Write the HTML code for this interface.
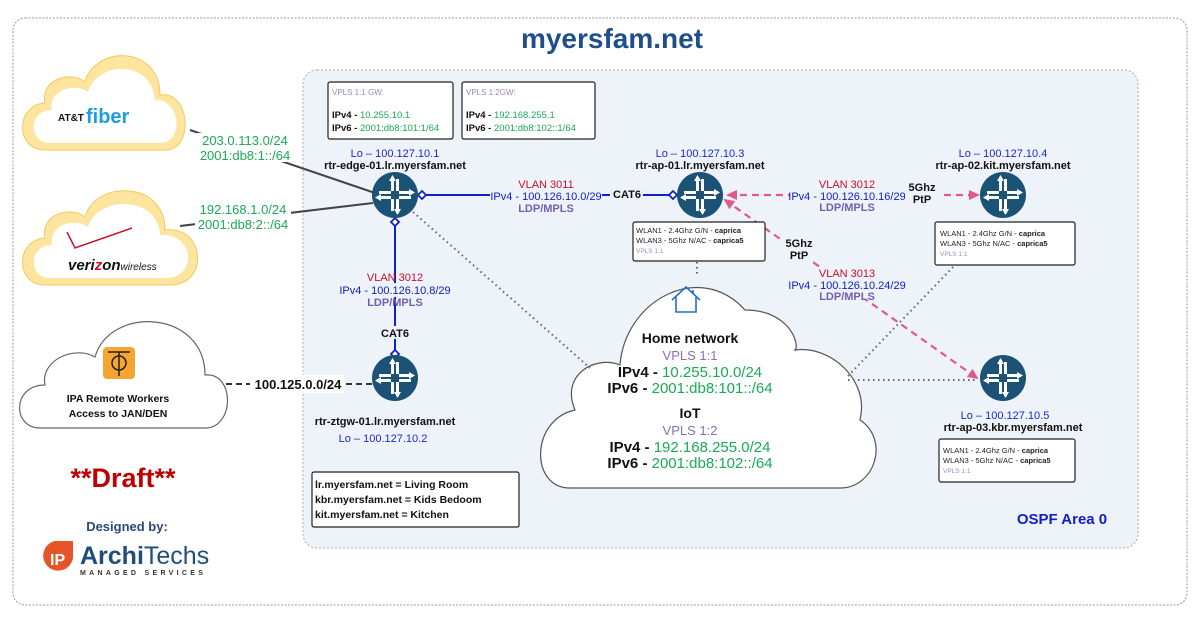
<!DOCTYPE html>
<html><head><meta charset="utf-8"><style>
html,body{margin:0;padding:0;background:#fff}
svg{display:block;font-family:"Liberation Sans",sans-serif}
</style></head><body>
<svg width="1200" height="617" viewBox="0 0 1200 617" xmlns="http://www.w3.org/2000/svg">
<defs>
<g id="rt">
<circle r="23" fill="#1b5275"/>
<g fill="#fff">
<rect x="-4" y="-18" width="3" height="14"/><polygon points="-2.5,-20 -6,-14 1,-14"/>
<rect x="1" y="-16" width="3" height="12"/>
<rect x="1" y="4" width="3" height="14"/><polygon points="2.5,20 6,14 -1,14"/>
<rect x="-4" y="4" width="3" height="12"/>
<rect x="4" y="-4" width="14" height="3"/><polygon points="20,-2.5 14,-6 14,1"/>
<rect x="4" y="1" width="12" height="3"/>
<rect x="-18" y="1" width="14" height="3"/><polygon points="-20,2.5 -14,6 -14,-1"/>
<rect x="-16" y="-4" width="12" height="3"/>
</g>
</g>
<marker id="pa" markerWidth="12" markerHeight="12" refX="9" refY="6" orient="auto-start-reverse" markerUnits="userSpaceOnUse"><path d="M0,1 L11,6 L0,11 Z" fill="#e05a87"/></marker>
</defs>

<rect x="13" y="18" width="1174" height="587" rx="12" fill="#fff" stroke="#999" stroke-dasharray="2,1.5"/>
<text x="612" y="48" text-anchor="middle" font-size="28" font-weight="bold" fill="#1f4e8c">myersfam.net</text>
<rect x="303" y="70" width="835" height="478" rx="14" fill="#eef2f9" stroke="#aab" stroke-dasharray="2,2"/>

<!-- clouds -->
<g fill="#fff">
<path d="M45,150 C15,150 15,105 45,103 C40,80 70,70 85,82 C95,45 160,45 160,95 C190,90 195,150 165,150 Z" fill="#fde5a0" stroke="#f3c95a" stroke-width="1"/>
<path d="M50,143 C28,143 28,110 52,110 C48,90 75,82 88,92 C98,60 152,60 155,100 C180,98 185,143 160,143 Z"/>
<path d="M45,285 C15,285 15,240 45,238 C40,215 70,205 85,217 C95,180 165,180 165,230 C205,225 210,285 170,285 Z" fill="#fde5a0" stroke="#f3c95a" stroke-width="1"/>
<path d="M50,278 C28,278 28,245 52,245 C48,225 75,217 88,227 C98,195 158,195 160,235 C195,233 198,278 165,278 Z"/>
</g>
<text x="58" y="121" font-size="10" font-weight="bold" fill="#111">AT&amp;T</text>
<text x="86" y="123" font-size="20" font-weight="bold" fill="#1d9ee3">fiber</text>
<path d="M67,232 L75,248 L132,228" fill="none" stroke="#c8102e" stroke-width="1.5"/>
<text x="68" y="270" font-size="15" font-weight="bold" font-style="italic" fill="#111">veri<tspan fill="#c8102e">z</tspan>on<tspan font-size="10" font-weight="normal">wireless</tspan></text>

<path d="M40,428 C12,428 12,385 45,385 C40,360 75,345 95,357 C110,305 205,310 205,375 C235,372 235,428 205,428 Z" fill="#fff" stroke="#666" stroke-width="1.2"/>
<rect x="103" y="347" width="32" height="32" rx="4" fill="#f6a530"/>
<path d="M108,352 H130 M119,352 V376" stroke="#222" stroke-width="1.5"/>
<circle cx="119" cy="363" r="7" fill="none" stroke="#222" stroke-width="1.5"/>
<text x="118" y="402" text-anchor="middle" font-size="10.5" font-weight="bold" fill="#111">IPA Remote Workers</text>
<text x="118" y="417" text-anchor="middle" font-size="10.5" font-weight="bold" fill="#111">Access to JAN/DEN</text>

<path d="M570,488 C530,488 530,420 575,410 C560,375 595,355 620,365 C625,300 700,260 745,310 C790,310 800,345 795,350 C830,345 870,380 860,420 C890,440 875,488 840,488 Z" fill="#fff" stroke="#555" stroke-width="1.2"/>
<path d="M672,300 L686,287 L700,300 M676,297 V312 H696 V297 M693,290 V293" fill="none" stroke="#1e6fd0" stroke-width="1.6"/>
<g text-anchor="middle">
<text x="690" y="343" font-size="14" font-weight="bold" fill="#111">Home network</text>
<text x="690" y="360" font-size="13" fill="#8a6fb5">VPLS  1:1</text>
<text x="690" y="377" font-size="15" font-weight="bold" fill="#111">IPv4 - <tspan font-weight="normal" fill="#1aaa55">10.255.10.0/24</tspan></text>
<text x="690" y="393" font-size="15" font-weight="bold" fill="#111">IPv6 - <tspan font-weight="normal" fill="#1aaa55">2001:db8:101::/64</tspan></text>
<text x="690" y="418" font-size="14" font-weight="bold" fill="#111">IoT</text>
<text x="690" y="435" font-size="13" fill="#8a6fb5">VPLS  1:2</text>
<text x="690" y="452" font-size="15" font-weight="bold" fill="#111">IPv4 - <tspan font-weight="normal" fill="#1aaa55">192.168.255.0/24</tspan></text>
<text x="690" y="468" font-size="15" font-weight="bold" fill="#111">IPv6 - <tspan font-weight="normal" fill="#1aaa55">2001:db8:102::/64</tspan></text>
</g>

<!-- lines -->
<line x1="190" y1="130" x2="375" y2="193" stroke="#444" stroke-width="2"/>
<line x1="180" y1="226" x2="373" y2="203" stroke="#444" stroke-width="2"/>
<rect x="197" y="133" width="96" height="29" fill="#fff"/>
<rect x="195" y="203" width="96" height="29" fill="#fff"/>
<g font-size="13" fill="#1aaa55" text-anchor="middle">
<text x="245" y="145">203.0.113.0/24</text><text x="245" y="160">2001:db8:1::/64</text>
<text x="243" y="214">192.168.1.0/24</text><text x="243" y="229">2001:db8:2::/64</text>
</g>
<g stroke="#666" stroke-width="2" stroke-dasharray="1.5,3.5" fill="none">
<line x1="413" y1="212" x2="590" y2="368"/>
<line x1="697" y1="262" x2="697" y2="276"/>
<line x1="848" y1="380" x2="978" y2="380"/>
<line x1="848" y1="376" x2="955" y2="265"/>
</g>
<line x1="226" y1="384" x2="372" y2="384" stroke="#333" stroke-width="2" stroke-dasharray="6,4"/>
<rect x="250" y="375" width="95" height="18" fill="#fff"/>
<text x="298" y="389" text-anchor="middle" font-size="13" font-weight="bold" fill="#111">100.125.0.0/24</text>

<line x1="422" y1="195" x2="673" y2="195" stroke="#1020c8" stroke-width="2"/>
<line x1="395" y1="222" x2="395" y2="356" stroke="#1020c8" stroke-width="2"/>
<g fill="#fff" stroke="#1020c8" stroke-width="1.8">
<path d="M418,195 l4,-4 l4,4 l-4,4z"/><path d="M669,195 l4,-4 l4,4 l-4,4z"/>
<path d="M395,218 l4,4 l-4,4 l-4,-4z"/><path d="M395,350 l4,4 l-4,4 l-4,-4z"/>
</g>
<line x1="728" y1="195" x2="978" y2="195" stroke="#e05a87" stroke-width="2.2" stroke-dasharray="7,5" marker-start="url(#pa)" marker-end="url(#pa)"/>
<line x1="725" y1="200" x2="977" y2="378" stroke="#e05a87" stroke-width="2.2" stroke-dasharray="7,5" marker-start="url(#pa)" marker-end="url(#pa)"/>

<g text-anchor="middle" font-size="11">
<rect x="490" y="189" width="112" height="12" fill="#eef2f9"/>
<text x="546" y="188" fill="#c8102e">VLAN 3011</text>
<text x="546" y="200" fill="#1020c8">IPv4 - 100.126.10.0/29</text>
<text x="546" y="212" fill="#7060b0" font-weight="bold">LDP/MPLS</text>
<rect x="610" y="188" width="33" height="12" fill="#eef2f9"/>
<text x="627" y="198" font-weight="bold" fill="#111">CAT6</text>
<rect x="340" y="283" width="110" height="14" fill="#eef2f9"/>
<text x="395" y="281" fill="#c8102e">VLAN 3012</text>
<text x="395" y="294" fill="#1020c8">IPv4 - 100.126.10.8/29</text>
<text x="395" y="306" fill="#7060b0" font-weight="bold">LDP/MPLS</text>
<rect x="378" y="326" width="34" height="13" fill="#eef2f9"/>
<text x="395" y="337" font-weight="bold" fill="#111">CAT6</text>
<rect x="790" y="190" width="115" height="13" fill="#eef2f9"/>
<text x="847" y="188" fill="#c8102e">VLAN 3012</text>
<text x="847" y="200" fill="#1020c8">IPv4 - 100.126.10.16/29</text>
<text x="847" y="211" fill="#7060b0" font-weight="bold">LDP/MPLS</text>
<rect x="905" y="182" width="34" height="24" fill="#eef2f9"/>
<text x="922" y="191" font-weight="bold" fill="#111">5Ghz</text>
<text x="922" y="203" font-weight="bold" fill="#111">PtP</text>
<rect x="782" y="237" width="34" height="24" fill="#eef2f9"/>
<text x="799" y="247" font-weight="bold" fill="#111">5Ghz</text>
<text x="799" y="259" font-weight="bold" fill="#111">PtP</text>
<rect x="790" y="268" width="115" height="32" fill="#eef2f9"/>
<text x="847" y="277" fill="#c8102e">VLAN 3013</text>
<text x="847" y="289" fill="#1020c8">IPv4 - 100.126.10.24/29</text>
<text x="847" y="300" fill="#7060b0" font-weight="bold">LDP/MPLS</text>
</g>

<!-- routers -->
<use href="#rt" x="395" y="195"/>
<use href="#rt" x="700" y="195"/>
<use href="#rt" x="1003" y="195"/>
<use href="#rt" x="395" y="378"/>
<use href="#rt" x="1003" y="378"/>

<g text-anchor="middle" font-size="11">
<text x="395" y="157" fill="#1a2ad0">Lo – 100.127.10.1</text>
<text x="395" y="169" font-weight="bold" fill="#111">rtr-edge-01.lr.myersfam.net</text>
<text x="700" y="157" fill="#1a2ad0">Lo – 100.127.10.3</text>
<text x="700" y="169" font-weight="bold" fill="#111">rtr-ap-01.lr.myersfam.net</text>
<text x="1003" y="157" fill="#1a2ad0">Lo – 100.127.10.4</text>
<text x="1003" y="169" font-weight="bold" fill="#111">rtr-ap-02.kit.myersfam.net</text>
<text x="385" y="425" font-weight="bold" fill="#111">rtr-ztgw-01.lr.myersfam.net</text>
<text x="383" y="442" fill="#1a2ad0">Lo – 100.127.10.2</text>
<text x="1005" y="419" fill="#1a2ad0">Lo – 100.127.10.5</text>
<text x="1013" y="431" font-weight="bold" fill="#111">rtr-ap-03.kbr.myersfam.net</text>
</g>

<!-- boxes -->
<g fill="#fff" stroke="#222" stroke-width="1.2">
<rect x="328" y="82" width="125" height="57" rx="2"/>
<rect x="462" y="82" width="133" height="57" rx="2"/>
<rect x="633" y="222" width="132" height="39" rx="2"/>
<rect x="935" y="222" width="140" height="43" rx="2"/>
<rect x="939" y="439" width="136" height="43" rx="2"/>
<rect x="312" y="472" width="207" height="55" rx="2"/>
</g>
<g font-size="9.5">
<text x="332" y="95" fill="#9a88bb" font-size="8">VPLS 1:1 GW:</text>
<text x="332" y="118" font-weight="bold" fill="#111">IPv4 - <tspan font-weight="normal" fill="#1aaa55">10.255.10.1</tspan></text>
<text x="332" y="131" font-weight="bold" fill="#111">IPv6 - <tspan font-weight="normal" fill="#1aaa55">2001:db8:101:1/64</tspan></text>
<text x="466" y="95" fill="#9a88bb" font-size="8">VPLS 1:2GW:</text>
<text x="466" y="118" font-weight="bold" fill="#111">IPv4 - <tspan font-weight="normal" fill="#1aaa55">192.168.255.1</tspan></text>
<text x="466" y="131" font-weight="bold" fill="#111">IPv6 - <tspan font-weight="normal" fill="#1aaa55">2001:db8:102::1/64</tspan></text>
</g>
<g font-size="7.5" fill="#222">
<text x="636" y="233">WLAN1 - 2.4Ghz G/N - <tspan font-weight="bold">caprica</tspan></text>
<text x="636" y="243">WLAN3 - 5Ghz N/AC - <tspan font-weight="bold">caprica5</tspan></text>
<text x="636" y="253" fill="#9a88bb" font-size="6.5">VPLS  1:1</text>
<text x="940" y="236">WLAN1 - 2.4Ghz G/N - <tspan font-weight="bold">caprica</tspan></text>
<text x="940" y="246">WLAN3 - 5Ghz N/AC - <tspan font-weight="bold">caprica5</tspan></text>
<text x="940" y="256" fill="#9a88bb" font-size="6.5">VPLS  1:1</text>
<text x="943" y="453">WLAN1 - 2.4Ghz G/N - <tspan font-weight="bold">caprica</tspan></text>
<text x="943" y="463">WLAN3 - 5Ghz N/AC - <tspan font-weight="bold">caprica5</tspan></text>
<text x="943" y="473" fill="#9a88bb" font-size="6.5">VPLS  1:1</text>
</g>
<g font-size="10.5" font-weight="bold" fill="#111">
<text x="315" y="488">lr.myersfam.net = Living Room</text>
<text x="315" y="503">kbr.myersfam.net = Kids Bedoom</text>
<text x="315" y="518">kit.myersfam.net = Kitchen</text>
</g>

<text x="1062" y="524" text-anchor="middle" font-size="15" font-weight="bold" fill="#1020c8">OSPF Area 0</text>
<text x="123" y="487" text-anchor="middle" font-size="27" font-weight="bold" fill="#c00000">**Draft**</text>
<text x="127" y="531" text-anchor="middle" font-size="13" font-weight="bold" fill="#2b4a7a">Designed by:</text>
<path d="M55,541 H73 V558 A15,15 0 1 1 55,541 Z" fill="#e8542a"/>
<text x="50" y="565" font-size="16" font-weight="bold" fill="#fff">IP</text>
<text x="80" y="564" font-size="25" font-weight="bold" fill="#1f4e7a">Archi<tspan font-weight="normal">Techs</tspan></text>
<text x="80" y="575" font-size="7" letter-spacing="3.3" font-weight="bold" fill="#333">MANAGED SERVICES</text>
</svg>
</body></html>
